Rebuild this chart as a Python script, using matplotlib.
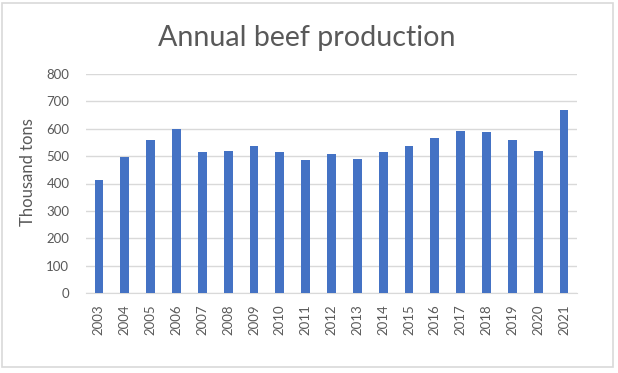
import matplotlib.pyplot as plt
from matplotlib.patches import Rectangle


years = [str(y) for y in range(2003, 2022)]
production = [412, 496, 560, 598, 514, 519, 537, 514, 486, 509,
              490, 514, 537, 565, 593, 588, 560, 519, 667]
y_ticks = [0, 100, 200, 300, 400, 500, 600, 700, 800]

BAR_COLOR = "#4472C4"
TEXT_COLOR = "#595959"
GRID_COLOR = "#D9D9D9"

plt.rcParams["font.family"] = ["Lato", "DejaVu Sans"]

fig = plt.figure(figsize=(6.18, 3.73), dpi=100)
ax = fig.add_axes([86 / 618, 1 - 293 / 373, (577 - 86) / 618, (293 - 74) / 373])

x = range(len(years))
ax.bar(x, production, width=0.34, color=BAR_COLOR, zorder=3)

ax.set_xlim(-0.5, len(years) - 0.5)
ax.set_ylim(0, 800)
ax.set_yticks(y_ticks)
ax.set_xticks(list(x))
ax.set_xticklabels(years, rotation=90)
ax.tick_params(axis="both", length=0, colors=TEXT_COLOR, labelsize=9.5)
ax.tick_params(axis="y", pad=12)
ax.tick_params(axis="x", pad=8)
ax.grid(axis="y", color=GRID_COLOR, linewidth=1, zorder=0)
for side in ["top", "right", "left"]:
    ax.spines[side].set_visible(False)
ax.spines["bottom"].set_color(GRID_COLOR)

ax.set_ylabel("Thousand tons", color=TEXT_COLOR, fontsize=12)
ax.yaxis.set_label_coords(-0.102, 0.55)
fig.text(0.497, 1 - 38 / 373, "Annual beef production", ha="center", va="center",
         fontsize=20.6, color=TEXT_COLOR)

# light frame around the chart
fig.patches.append(Rectangle((2 / 618, 1 - 367 / 373), 611 / 618, 364 / 373,
                             transform=fig.transFigure, fill=False,
                             edgecolor="#D9D9D9", linewidth=1.2))

fig.savefig("out.png", dpi=100)
